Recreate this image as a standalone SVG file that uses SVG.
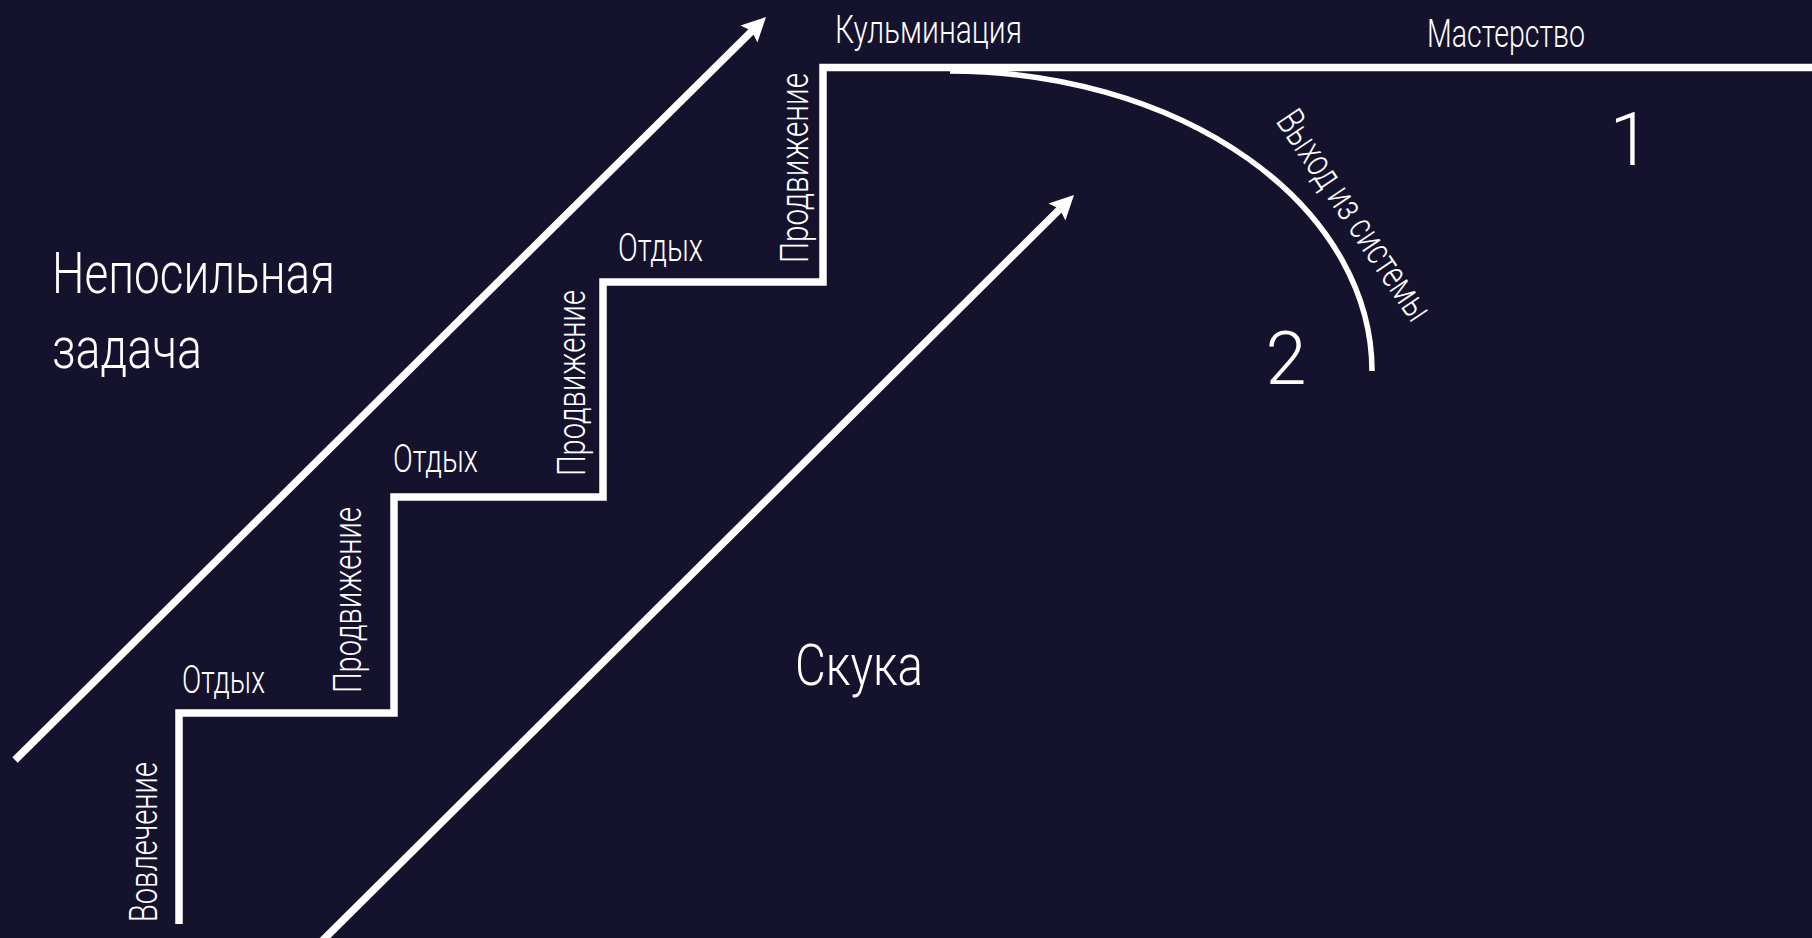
<svg xmlns="http://www.w3.org/2000/svg" width="1812" height="938" viewBox="0 0 1812 938">
  <defs>
    <style>
      .bg { fill: #15122e; }
      .ln { fill: none; stroke: #ffffff; stroke-width: 7.5; stroke-linecap: butt; stroke-linejoin: miter; }
      .arc { fill: none; stroke: #ffffff; stroke-width: 5.5; }
      text { font-family: Roboto, "Liberation Sans", sans-serif; font-weight: 300; fill: #ffffff; }
      .lbl { font-size: 39px; }
      .big { font-size: 58px; }
      .num { font-size: 74px; }
    </style>
    <marker id="head" markerUnits="userSpaceOnUse" markerWidth="28" markerHeight="28" viewBox="-2 -14 28 28" refX="4" refY="0" orient="auto">
      <path d="M0,-12 L24,0 L0,12 L4,0 Z" fill="#ffffff"/>
    </marker>
  </defs>

  <rect class="bg" x="0" y="0" width="1812" height="938"/>

  <!-- connectors: staircase, boundary arrows, exit arc -->
  <g id="connectors">
    <path id="stairs" class="ln" d="M179,924 V713 H394 V497 H603 V282 H823 V67.5 H1812"/>
    <line id="arrow-overload" class="ln" x1="15" y1="760" x2="751.8" y2="31.1" marker-end="url(#head)"/>
    <line id="arrow-boredom" class="ln" x1="318" y1="945" x2="1059.8" y2="209.1" marker-end="url(#head)"/>
    <path id="exit-arc" class="arc" d="M950,71 A422,300 0 0 1 1372,371"/>
  </g>

  <!-- zone labels -->
  <g id="zone-overload">
    <text class="big" x="52" y="293" textLength="283" lengthAdjust="spacingAndGlyphs">Непосильная</text>
    <text class="big" x="52" y="368" textLength="150" lengthAdjust="spacingAndGlyphs">задача</text>
  </g>
  <g id="zone-boredom">
    <text class="big" x="795" y="685" textLength="128" lengthAdjust="spacingAndGlyphs">Скука</text>
  </g>

  <!-- stage labels along the staircase -->
  <g id="stage-engagement">
    <text class="lbl" transform="translate(157,922) rotate(-90)" textLength="160" lengthAdjust="spacingAndGlyphs">Вовлечение</text>
  </g>
  <g id="stage-rest-1">
    <text class="lbl" x="182" y="693" textLength="83" lengthAdjust="spacingAndGlyphs">Отдых</text>
  </g>
  <g id="stage-progress-1">
    <text class="lbl" transform="translate(361,693) rotate(-90)" textLength="186" lengthAdjust="spacingAndGlyphs">Продвижение</text>
  </g>
  <g id="stage-rest-2">
    <text class="lbl" x="393" y="472" textLength="85" lengthAdjust="spacingAndGlyphs">Отдых</text>
  </g>
  <g id="stage-progress-2">
    <text class="lbl" transform="translate(585,476) rotate(-90)" textLength="186" lengthAdjust="spacingAndGlyphs">Продвижение</text>
  </g>
  <g id="stage-rest-3">
    <text class="lbl" x="618" y="261" textLength="85" lengthAdjust="spacingAndGlyphs">Отдых</text>
  </g>
  <g id="stage-progress-3">
    <text class="lbl" transform="translate(808,263) rotate(-90)" textLength="190" lengthAdjust="spacingAndGlyphs">Продвижение</text>
  </g>
  <g id="stage-climax">
    <text class="lbl" x="835" y="43" textLength="187" lengthAdjust="spacingAndGlyphs">Кульминация</text>
  </g>
  <g id="stage-mastery">
    <text class="lbl" x="1427" y="47" textLength="158" lengthAdjust="spacingAndGlyphs">Мастерство</text>
  </g>
  <g id="stage-exit">
    <text class="lbl" transform="translate(1275,121) rotate(56)" textLength="245" lengthAdjust="spacingAndGlyphs">Выход из системы</text>
  </g>

  <!-- outcome numbers -->
  <g id="outcome-1">
    <text class="num" x="1630" y="165" text-anchor="middle">1</text>
  </g>
  <g id="outcome-2">
    <text class="num" x="1286" y="384" text-anchor="middle">2</text>
  </g>
</svg>
